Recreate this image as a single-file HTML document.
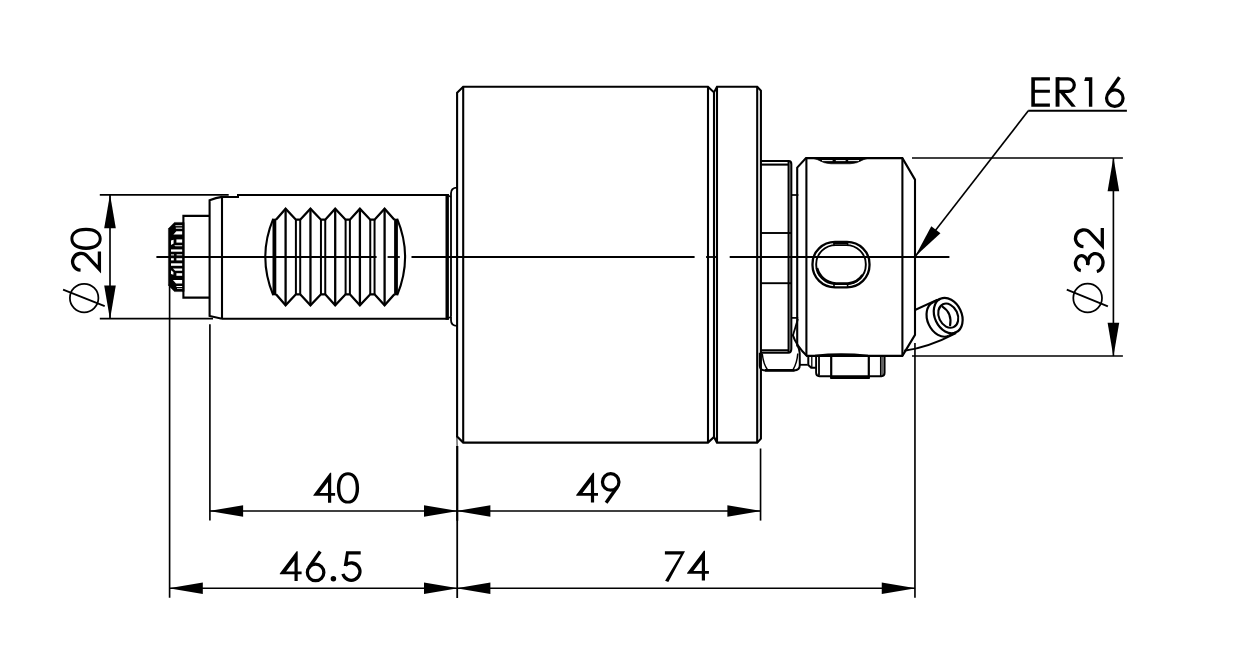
<!DOCTYPE html>
<html><head><meta charset="utf-8"><title>Drawing</title>
<style>
html,body{margin:0;padding:0;background:#fff;font-family:"Liberation Sans",sans-serif;}
svg{display:block}
</style></head>
<body>
<svg width="1236" height="656" viewBox="0 0 1236 656" stroke="#000" fill="none" stroke-linecap="butt" stroke-linejoin="miter">
<rect x="0" y="0" width="1236" height="656" fill="#fff" stroke="none"/>
<path d="M457.10,92.80 L463.20,86.70 L708.00,86.70 L714.00,92.40 L717.00,86.70 L757.20,86.70 L760.90,90.60 L760.90,438.70 L757.20,442.60 L717.00,442.60 L714.00,436.90 L708.00,442.60 L463.20,442.60 L457.10,436.50 Z" stroke-width="2.1" fill="none" />
<line x1="463.20" y1="86.70" x2="463.20" y2="442.60" stroke-width="2.1" />
<line x1="708.00" y1="86.70" x2="708.00" y2="442.60" stroke-width="2.1" />
<line x1="714.00" y1="92.40" x2="714.00" y2="436.90" stroke-width="2.1" />
<line x1="717.00" y1="86.70" x2="717.00" y2="442.60" stroke-width="2.1" />
<line x1="757.20" y1="86.70" x2="757.20" y2="442.60" stroke-width="2.1" />
<path d="M222.00,196.90 Q216.00,197.60 209.60,200.20 L209.60,316.00 L222.00,318.80" stroke-width="2.1" fill="none" />
<line x1="222.00" y1="196.00" x2="222.00" y2="318.80" stroke-width="2.1" />
<path d="M221.00,196.90 L238.00,196.90 L238.00,194.90 L448.60,194.90" stroke-width="2.0" fill="none" />
<path d="M222.00,318.80 L448.60,318.80" stroke-width="2.1" fill="none" />
<line x1="447.20" y1="194.00" x2="447.20" y2="319.80" stroke-width="3.4" />
<path d="M448.5,195.60 L451.0,197.20" stroke-width="1.4" fill="none" />
<path d="M448.5,318.20 L451.0,316.60" stroke-width="1.4" fill="none" />
<path d="M451.0,316.80 L451.0,197.00 L451.0,193.2 Q451.0,187.6 457.10,187.6" stroke-width="1.8" fill="none" />
<path d="M451.0,316.80 L451.0,320.2 Q451.0,325.8 457.10,325.8" stroke-width="1.8" fill="none" />
<path d="M209.60,215.90 L183.40,215.90 L183.40,297.60 L209.60,297.60" stroke-width="2.1" fill="none" />
<path d="M183.40,222.40 L174.40,222.40 L168.40,228.60 L168.40,285.40 L174.40,291.60 L183.40,291.60 Z" stroke-width="0.4" fill="#000" />
<path d="M175.40,225.30 L182.40,225.30 L182.40,226.10 L175.40,226.10 Z" stroke-width="0.01" fill="#fff" stroke="none"/>
<path d="M175.80,227.60 L182.40,227.60 L182.40,228.70 L175.80,228.70 Z" stroke-width="0.01" fill="#fff" stroke="none"/>
<path d="M173.40,234.60 L176.40,231.20 L182.40,231.20 L182.40,234.60 Z" stroke-width="0.01" fill="#fff" stroke="none"/>
<path d="M176.40,239.40 L182.40,239.40 L182.40,242.60 L176.40,242.60 Z" stroke-width="0.01" fill="#fff" stroke="none"/>
<path d="M171.00,240.40 L173.60,239.80 L173.60,243.60 L171.00,245.00 Z" stroke-width="0.01" fill="#fff" stroke="none"/>
<path d="M174.20,245.30 L182.40,245.30 L182.40,246.30 L175.40,246.30 Z" stroke-width="0.01" fill="#fff" stroke="none"/>
<path d="M171.00,249.40 L182.40,249.40 L182.40,251.70 L171.00,251.70 Z" stroke-width="0.01" fill="#fff" stroke="none"/>
<path d="M171.00,254.40 L174.00,254.40 L174.00,255.40 L171.00,255.40 Z" stroke-width="0.01" fill="#fff" stroke="none"/>
<path d="M176.60,254.30 L182.40,254.30 L182.40,255.40 L176.60,255.40 Z" stroke-width="0.01" fill="#fff" stroke="none"/>
<path d="M171.00,258.20 L173.80,258.20 L173.80,260.40 L171.00,260.40 Z" stroke-width="0.01" fill="#fff" stroke="none"/>
<path d="M176.40,258.20 L182.40,258.20 L182.40,260.40 L176.40,260.40 Z" stroke-width="0.01" fill="#fff" stroke="none"/>
<path d="M171.00,263.30 L182.40,263.30 L182.40,265.80 L171.00,265.80 Z" stroke-width="0.01" fill="#fff" stroke="none"/>
<path d="M172.90,268.40 L182.40,268.40 L182.40,270.70 L175.20,270.70 Z" stroke-width="0.01" fill="#fff" stroke="none"/>
<path d="M171.00,270.20 L173.40,272.00 L173.40,274.80 L171.00,274.00 Z" stroke-width="0.01" fill="#fff" stroke="none"/>
<path d="M176.40,273.20 L182.40,273.20 L182.40,275.80 L176.40,275.80 Z" stroke-width="0.01" fill="#fff" stroke="none"/>
<path d="M172.90,279.90 L182.40,279.90 L182.40,283.40 L176.00,283.40 Z" stroke-width="0.01" fill="#fff" stroke="none"/>
<path d="M176.40,286.00 L182.40,286.00 L182.40,287.00 L176.40,287.00 Z" stroke-width="0.01" fill="#fff" stroke="none"/>
<path d="M177.00,288.30 L182.40,288.30 L182.40,289.00 L177.00,289.00 Z" stroke-width="0.01" fill="#fff" stroke="none"/>
<line x1="183.40" y1="222.40" x2="183.40" y2="291.60" stroke-width="2.0" />
<path d="M276.00,219.70 L285.60,208.70 L295.90,219.70 L300.20,219.70 L310.45,208.70 L320.95,219.70 L325.25,219.70 L335.20,208.70 L345.60,219.70 L349.90,219.70 L359.90,208.70 L370.25,219.70 L374.55,219.70 L384.60,208.70 L394.40,219.70" stroke-width="2.3" fill="none" stroke-linejoin="miter"/>
<path d="M276.00,294.30 L285.60,305.30 L295.90,294.30 L300.20,294.30 L310.45,305.30 L320.95,294.30 L325.25,294.30 L335.20,305.30 L345.60,294.30 L349.90,294.30 L359.90,305.30 L370.25,294.30 L374.55,294.30 L384.60,305.30 L394.40,294.30" stroke-width="2.3" fill="none" stroke-linejoin="miter"/>
<line x1="285.60" y1="208.70" x2="285.60" y2="305.30" stroke-width="2.3" />
<line x1="310.45" y1="208.70" x2="310.45" y2="305.30" stroke-width="2.3" />
<line x1="335.20" y1="208.70" x2="335.20" y2="305.30" stroke-width="2.3" />
<line x1="359.90" y1="208.70" x2="359.90" y2="305.30" stroke-width="2.3" />
<line x1="384.60" y1="208.70" x2="384.60" y2="305.30" stroke-width="2.3" />
<line x1="295.90" y1="219.70" x2="295.90" y2="294.30" stroke-width="2.0" />
<line x1="300.20" y1="219.70" x2="300.20" y2="294.30" stroke-width="2.0" />
<line x1="320.95" y1="219.70" x2="320.95" y2="294.30" stroke-width="2.0" />
<line x1="325.25" y1="219.70" x2="325.25" y2="294.30" stroke-width="2.0" />
<line x1="345.60" y1="219.70" x2="345.60" y2="294.30" stroke-width="2.0" />
<line x1="349.90" y1="219.70" x2="349.90" y2="294.30" stroke-width="2.0" />
<line x1="370.25" y1="219.70" x2="370.25" y2="294.30" stroke-width="2.0" />
<line x1="374.55" y1="219.70" x2="374.55" y2="294.30" stroke-width="2.0" />
<line x1="274.40" y1="218.70" x2="274.40" y2="295.30" stroke-width="3.8" />
<line x1="396.00" y1="218.70" x2="396.00" y2="295.30" stroke-width="3.8" />
<path d="M273.20,218.90 Q257.4,257.00 273.20,295.10" stroke-width="2.1" fill="none" />
<path d="M397.20,218.90 Q413.0,257.00 397.20,295.10" stroke-width="2.1" fill="none" />
<line x1="156.40" y1="257.00" x2="376.60" y2="257.00" stroke-width="1.8" />
<line x1="387.60" y1="257.00" x2="399.80" y2="257.00" stroke-width="1.8" />
<line x1="411.50" y1="257.00" x2="694.60" y2="257.00" stroke-width="1.8" />
<line x1="706.00" y1="257.00" x2="718.00" y2="257.00" stroke-width="1.8" />
<line x1="729.70" y1="257.00" x2="949.40" y2="257.00" stroke-width="1.8" />
<path d="M760.90,161.00 L788.80,161.00 Q791.30,161.00 791.30,164.00 L791.30,348.80 Q791.30,352.80 788.30,352.80 L760.90,352.80" stroke-width="2.1" fill="none" />
<line x1="760.90" y1="164.60" x2="788.60" y2="164.60" stroke-width="2.1" />
<line x1="760.90" y1="350.30" x2="788.60" y2="350.30" stroke-width="2.1" />
<line x1="788.60" y1="161.00" x2="788.60" y2="352.80" stroke-width="2.1" />
<line x1="760.90" y1="233.00" x2="791.30" y2="233.00" stroke-width="1.9" />
<line x1="760.90" y1="283.20" x2="791.30" y2="283.20" stroke-width="1.9" />
<path d="M759.8,352.80 L759.8,366.0 Q760.0,370.4 765.5,370.4 L794.0,370.4 Q799.8,370.4 799.8,365.0 L799.7,353.0 Q799.4,348.5 797.6,346.0" stroke-width="2.0" fill="none" />
<path d="M762.2,353.5 Q763.4,364.0 767.2,369.3" stroke-width="1.5" fill="none" />
<path d="M797.8,353.5 Q797.0,363.0 793.2,369.3" stroke-width="1.5" fill="none" />
<line x1="765.00" y1="370.30" x2="794.50" y2="370.30" stroke-width="2.6" />
<path d="M797.20,346.5 L797.20,167.6 L806.00,158.10 L902.40,158.10 L915.00,179.6 L915.00,334.9 L902.40,355.90 L806.40,355.90" stroke-width="2.1" fill="none" />
<path d="M810.5,157.60 L817.5,159.70 Q824.5,163.80 831,163.80 L850,163.80 Q856.5,163.80 863.5,159.70 L870.5,157.60 Z" stroke-width="0.6" fill="#000" />
<line x1="822.00" y1="160.60" x2="832.60" y2="160.60" stroke-width="1.0" stroke="#fff"/>
<line x1="835.80" y1="160.60" x2="845.60" y2="160.60" stroke-width="1.0" stroke="#fff"/>
<line x1="848.20" y1="160.60" x2="859.00" y2="160.60" stroke-width="1.0" stroke="#fff"/>
<line x1="806.40" y1="158.10" x2="806.40" y2="355.90" stroke-width="2.1" />
<line x1="902.40" y1="158.10" x2="902.40" y2="355.90" stroke-width="2.1" />
<line x1="791.30" y1="195.00" x2="798.40" y2="195.00" stroke-width="1.7" />
<line x1="791.30" y1="317.90" x2="798.20" y2="317.90" stroke-width="1.7" />
<line x1="797.90" y1="319.00" x2="792.90" y2="335.40" stroke-width="1.8" />
<path d="M792.6,334.5 Q796.0,345.5 807.4,356.6" stroke-width="2.1" fill="none" />
<line x1="799.80" y1="364.80" x2="807.60" y2="364.80" stroke-width="1.8" />
<path d="M808.30,356.20 L808.30,365.00 L811.20,367.80 L816.00,367.80" stroke-width="2.0" fill="none" />
<line x1="811.80" y1="356.50" x2="811.80" y2="367.40" stroke-width="1.3" />
<path d="M835.00,241.90 L847.00,241.90 A22.5,22.0 0 0 1 869.50,263.90 L869.50,265.30 A22.5,22.0 0 0 1 847.00,287.30 L835.00,287.30 A22.5,22.0 0 0 1 812.50,265.30 L812.50,263.90 A22.5,22.0 0 0 1 835.00,241.90 Z" stroke-width="2.3" fill="none" />
<path d="M835.80,245.10 L846.20,245.10 A19.6,19.0 0 0 1 865.80,264.10 L865.80,265.00 A19.6,19.0 0 0 1 846.20,284.00 L835.80,284.00 A19.6,19.0 0 0 1 816.20,265.00 L816.20,264.10 A19.6,19.0 0 0 1 835.80,245.10 Z" stroke-width="1.9" fill="none" />
<path d="M817.0,268.0 Q821.0,281.5 836.0,283.6 L848.0,283.6 Q858.0,282.5 862.5,275.0" stroke-width="2.6" fill="none" />
<line x1="833.50" y1="243.40" x2="848.00" y2="243.40" stroke-width="1.4" />
<line x1="834.00" y1="241.50" x2="834.00" y2="245.50" stroke-width="1.6" />
<line x1="847.60" y1="241.50" x2="847.60" y2="245.50" stroke-width="1.6" />
<line x1="834.00" y1="283.00" x2="834.00" y2="288.00" stroke-width="1.6" />
<line x1="847.60" y1="283.00" x2="847.60" y2="288.00" stroke-width="1.6" />
<path d="M816.10,355.90 L816.10,372.8 Q816.10,376.2 819.4,376.2 L881.6,376.2 Q884.60,376.2 884.60,372.8 L884.60,355.90" stroke-width="1.9" fill="none" />
<path d="M815.0,355.60 C830,353.9 852,353.9 868.0,355.60" stroke-width="1.9" fill="none" />
<line x1="819.00" y1="356.00" x2="819.00" y2="375.50" stroke-width="1.8" />
<line x1="831.20" y1="355.00" x2="831.20" y2="378.00" stroke-width="2.2" />
<line x1="868.80" y1="355.00" x2="868.80" y2="378.00" stroke-width="2.2" />
<line x1="880.80" y1="356.00" x2="880.80" y2="376.00" stroke-width="1.7" />
<line x1="882.90" y1="356.00" x2="882.90" y2="375.00" stroke-width="1.0" />
<line x1="830.20" y1="377.60" x2="869.80" y2="377.60" stroke-width="2.6" />
<ellipse cx="948.2" cy="315.6" rx="13.4" ry="18.5" transform="rotate(-25 948.2 315.6)" stroke-width="2.2"/>
<ellipse cx="948.2" cy="315.70000000000005" rx="9.4" ry="12.6" transform="rotate(-25 948.2 315.6)" stroke-width="2.1"/>
<path d="M933.13,302.23 A13.4,18.5 -25 0 0 948.77,335.77" stroke-width="2.2" fill="none" />
<line x1="933.13" y1="302.23" x2="940.38" y2="298.83" stroke-width="2.2" />
<line x1="948.77" y1="335.77" x2="956.02" y2="332.37" stroke-width="2.2" />
<path d="M941.8,306.2 Q952.6,313.0 950.0,326.0" stroke-width="2.1" fill="none" />
<line x1="915.00" y1="310.00" x2="937.60" y2="299.60" stroke-width="2.0" />
<path d="M904.2,350.8 C922,348.5 940,341.5 956.0,333.2" stroke-width="2.0" fill="none" />
<line x1="169.60" y1="284.00" x2="169.60" y2="597.80" stroke-width="1.65" />
<line x1="209.90" y1="324.20" x2="209.90" y2="520.60" stroke-width="1.65" />
<line x1="456.90" y1="436.00" x2="457.10" y2="446.50" stroke-width="0.9" />
<line x1="457.20" y1="446.00" x2="457.20" y2="520.60" stroke-width="2.25" />
<line x1="457.20" y1="520.00" x2="457.20" y2="598.00" stroke-width="1.8" />
<line x1="760.55" y1="448.50" x2="760.55" y2="520.60" stroke-width="1.65" />
<line x1="914.95" y1="343.00" x2="914.95" y2="597.80" stroke-width="1.65" />
<line x1="209.90" y1="511.00" x2="760.55" y2="511.00" stroke-width="1.65" />
<line x1="169.60" y1="588.20" x2="914.95" y2="588.20" stroke-width="1.65" />
<polygon points="209.10,511.00 243.10,505.20 243.10,516.80" fill="#000" stroke="none"/>
<polygon points="458.00,511.00 424.00,516.80 424.00,505.20" fill="#000" stroke="none"/>
<polygon points="456.40,511.00 490.40,505.20 490.40,516.80" fill="#000" stroke="none"/>
<polygon points="761.35,511.00 727.35,516.80 727.35,505.20" fill="#000" stroke="none"/>
<polygon points="168.80,588.20 202.80,582.40 202.80,594.00" fill="#000" stroke="none"/>
<polygon points="458.00,588.20 424.00,594.00 424.00,582.40" fill="#000" stroke="none"/>
<polygon points="456.40,588.20 490.40,582.40 490.40,594.00" fill="#000" stroke="none"/>
<polygon points="915.75,588.20 881.75,594.00 881.75,582.40" fill="#000" stroke="none"/>
<line x1="99.80" y1="194.95" x2="228.70" y2="194.95" stroke-width="1.7" />
<line x1="99.80" y1="318.70" x2="213.00" y2="318.70" stroke-width="1.7" />
<line x1="110.00" y1="195.10" x2="110.00" y2="318.70" stroke-width="1.65" />
<polygon points="110.00,194.30 115.80,228.30 104.20,228.30" fill="#000" stroke="none"/>
<polygon points="110.00,319.50 104.20,285.50 115.80,285.50" fill="#000" stroke="none"/>
<line x1="912.00" y1="158.00" x2="1122.90" y2="158.00" stroke-width="1.65" />
<line x1="912.00" y1="356.00" x2="1122.90" y2="356.00" stroke-width="1.65" />
<line x1="1113.40" y1="158.00" x2="1113.40" y2="356.00" stroke-width="1.65" />
<polygon points="1113.40,157.20 1119.20,191.20 1107.60,191.20" fill="#000" stroke="none"/>
<polygon points="1113.40,356.80 1107.60,322.80 1119.20,322.80" fill="#000" stroke="none"/>
<line x1="1028.20" y1="110.80" x2="1126.90" y2="110.80" stroke-width="2.0" />
<line x1="1028.30" y1="110.80" x2="915.20" y2="256.40" stroke-width="1.65" />
<polygon points="915.02,256.64 931.29,226.23 940.45,233.34" fill="#000" stroke="none"/>
<g transform="translate(313.30,472.80)"><path fill="#000" stroke="none" fill-rule="evenodd" d="M16.8,0 L17.9,0 L17.9,20.3 L21.8,20.3 L21.8,23.05 L17.9,23.05 L17.9,29.9 L14.7,29.9 L14.7,23.05 L0,23.05 L0,22.4 Z M14.7,9.2 L6.3,20.3 L14.7,20.3 Z"/></g>
<g transform="translate(336.90,472.80)"><path fill="#000" stroke="none" fill-rule="evenodd" d="M11.10,-0.50 C17.43,-0.50 22.20,4.82 22.20,15.15 C22.20,25.48 17.43,30.80 11.10,30.80 C4.77,30.80 0.00,25.48 0.00,15.15 C0.00,4.82 4.77,-0.50 11.10,-0.50 Z M11.10,2.45 C15.49,2.45 18.80,6.51 18.80,15.15 C18.80,23.79 15.49,27.85 11.10,27.85 C6.71,27.85 3.40,23.79 3.40,15.15 C3.40,6.51 6.71,2.45 11.10,2.45 Z"/></g>
<g transform="translate(576.20,472.70)"><path fill="#000" stroke="none" fill-rule="evenodd" d="M16.8,0 L17.9,0 L17.9,20.3 L21.8,20.3 L21.8,23.05 L17.9,23.05 L17.9,29.9 L14.7,29.9 L14.7,23.05 L0,23.05 L0,22.4 Z M14.7,9.2 L6.3,20.3 L14.7,20.3 Z"/></g>
<g transform="translate(600.80,472.70)"><circle cx="9.9" cy="9.25" r="8.25" stroke-width="3.25"/><line x1="16.63" y1="14.02" x2="5.30" y2="30.00" stroke-width="3.4"/></g>
<g transform="translate(279.80,551.20)"><path fill="#000" stroke="none" fill-rule="evenodd" d="M16.8,0 L17.9,0 L17.9,20.3 L21.8,20.3 L21.8,23.05 L17.9,23.05 L17.9,29.9 L14.7,29.9 L14.7,23.05 L0,23.05 L0,22.4 Z M14.7,9.2 L6.3,20.3 L14.7,20.3 Z"/></g>
<g transform="translate(305.70,551.20)"><g transform="rotate(180 9.9 15)"><circle cx="9.9" cy="8.75" r="8.25" stroke-width="3.25"/><line x1="16.66" y1="13.48" x2="5.30" y2="29.70" stroke-width="3.4"/></g></g>
<g transform="translate(333.40,578.70)"><circle cx="0" cy="0" r="2.75" fill="#000" stroke="none"/></g>
<g transform="translate(340.80,551.20)"><path fill="#000" stroke="none" d="M5.3,0 L19.9,0 L19.9,3.3 L7.9,3.3 L6.5,14.9 L2.95,14.9 Z"/><path d="M4.49,14.18 A8.65,8.65 0 1 1 2.14,22.64" stroke-width="3.3"/></g>
<g transform="translate(664.90,551.20)"><path fill="#000" stroke="none" d="M0,0 L20.1,0 L3.4,30.7 L0.2,29.6 L15.9,3.4 L0,3.4 Z"/></g>
<g transform="translate(687.10,550.70)"><path fill="#000" stroke="none" fill-rule="evenodd" d="M16.8,0 L17.9,0 L17.9,20.3 L21.8,20.3 L21.8,23.05 L17.9,23.05 L17.9,29.9 L14.7,29.9 L14.7,23.05 L0,23.05 L0,22.4 Z M14.7,9.2 L6.3,20.3 L14.7,20.3 Z"/></g>
<g transform="translate(1031.30,77.20)"><path fill="#000" stroke="none" d="M0,0 L18.6,0 L18.6,3.2 L3.6,3.2 L3.6,12.5 L18.6,12.5 L18.6,15.6 L3.6,15.6 L3.6,26.4 L18.6,26.4 L18.6,29.5 L0,29.5 Z"/></g>
<g transform="translate(1055.60,77.20)"><rect x="0" y="0" width="3.9" height="29.5" fill="#000" stroke="none"/><path d="M1.9,1.6 L12.4,1.6 A6.3,6.3 0 0 1 12.4,14.2 L1.9,14.2" stroke-width="3.2"/><path fill="#000" stroke="none" d="M3.9,15.0 L8.6,15.0 L20.3,29.5 L16.0,29.5 Z"/></g>
<g transform="translate(1084.20,77.20)"><path fill="#000" stroke="none" d="M1.1,0 L8.1,0 L8.1,29.5 L4.7,29.5 L4.7,3.7 L0,3.7 Z"/></g>
<g transform="translate(1104.90,76.90)"><g transform="rotate(180 9.9 15)"><circle cx="9.9" cy="8.75" r="8.25" stroke-width="3.25"/><line x1="16.66" y1="13.48" x2="5.30" y2="29.70" stroke-width="3.4"/></g></g>
<g transform="translate(70.90,272.90) rotate(-90)"><path d="M2.71,9.66 A8.4,8.4 0 1 1 16.80,16.27 L3.58,28.50 L21.3,28.5" stroke-width="3.3" stroke-linejoin="miter" stroke-miterlimit="10"/></g>
<g transform="translate(70.90,249.90) rotate(-90)"><path fill="#000" stroke="none" fill-rule="evenodd" d="M11.10,-0.50 C17.43,-0.50 22.20,4.82 22.20,15.15 C22.20,25.48 17.43,30.80 11.10,30.80 C4.77,30.80 0.00,25.48 0.00,15.15 C0.00,4.82 4.77,-0.50 11.10,-0.50 Z M11.10,2.45 C15.49,2.45 18.80,6.51 18.80,15.15 C18.80,23.79 15.49,27.85 11.10,27.85 C6.71,27.85 3.40,23.79 3.40,15.15 C3.40,6.51 6.71,2.45 11.10,2.45 Z"/></g>
<circle cx="84.15" cy="298.0" r="14.25" stroke-width="1.75"/>
<line x1="63.10" y1="289.70" x2="104.70" y2="306.20" stroke-width="1.8" />
<g transform="translate(1073.80,273.70) rotate(-90)"><path d="M3.06,7.01 A7.5,6.1 0 1 1 8.56,13.64" stroke-width="3.3"/><path d="M9.22,14.31 A9.05,7.55 0 1 1 2.19,23.01" stroke-width="3.3"/><rect x="9.0" y="12.5" width="3.0" height="3.0" fill="#000" stroke="none"/></g>
<g transform="translate(1073.80,249.40) rotate(-90)"><path d="M2.71,9.66 A8.4,8.4 0 1 1 16.80,16.27 L3.58,28.50 L21.3,28.5" stroke-width="3.3" stroke-linejoin="miter" stroke-miterlimit="10"/></g>
<circle cx="1087.65" cy="298.0" r="14.35" stroke-width="1.75"/>
<line x1="1066.80" y1="289.70" x2="1107.90" y2="306.40" stroke-width="1.8" />
</svg>
</body></html>
